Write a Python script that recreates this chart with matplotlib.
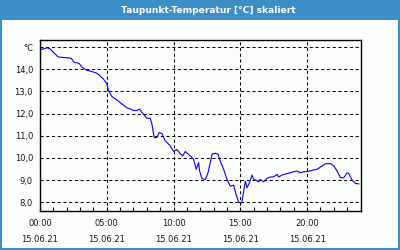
import numpy as np
import matplotlib
matplotlib.use("Agg")
import matplotlib.pyplot as plt
from matplotlib.patches import Rectangle

# data (hour of day, dew point in degC)
hours = [0.0, 0.15, 0.53, 0.75, 1.35, 1.73, 2.33, 2.55, 2.93, 3.17, 3.53, 3.77,
         4.22, 4.43, 4.75, 5.0, 5.12, 5.38, 5.75, 6.13, 6.5, 6.75, 7.0, 7.25,
         7.45, 7.63, 8.0, 8.25, 8.38, 8.55, 8.75, 8.93, 9.13, 9.38, 9.75, 10.0,
         10.25, 10.5, 10.68, 10.88, 11.25, 11.5, 11.7, 11.88, 11.95, 12.13, 12.38,
         12.58, 12.75, 12.88, 13.13, 13.33, 13.5, 13.75, 14.0, 14.25, 14.5, 14.68,
         14.88, 15.1, 15.25, 15.38, 15.5, 15.68, 15.88, 16.0, 16.18, 16.38, 16.5,
         16.75, 17.0, 17.25, 17.5, 17.75, 17.88, 18.13, 18.5, 18.75, 19.0, 19.25,
         19.5, 19.75, 20.0, 20.38, 20.75, 21.13, 21.38, 21.75, 22.0, 22.25, 22.5,
         22.75, 23.0, 23.13, 23.38, 23.63, 23.88]
temps = [14.95, 14.9, 14.97, 14.92, 14.56, 14.53, 14.5, 14.32, 14.26, 14.08, 13.95, 13.92,
         13.83, 13.74, 13.56, 13.35, 13.05, 12.77, 12.62, 12.44, 12.26, 12.21, 12.14, 12.14,
         12.2, 12.06, 11.79, 11.79, 11.53, 10.92, 10.92, 11.15, 11.1, 10.77, 10.55, 10.3,
         10.38, 10.2, 10.09, 10.29, 10.09, 9.94, 9.49, 9.79, 9.41, 9.06, 9.03,
         9.33, 9.79, 10.17, 10.21, 10.17, 9.86, 9.49, 9.03, 8.73, 8.77, 8.35,
         8.0, 7.97, 8.5, 8.95, 8.65, 8.88, 9.23, 9.03, 8.99, 8.92, 9.03,
         8.92, 9.08, 9.14, 9.15, 9.26, 9.14, 9.23, 9.29, 9.33, 9.38, 9.41,
         9.33, 9.38, 9.38, 9.44, 9.49, 9.64, 9.74, 9.74, 9.64, 9.41, 9.11,
         9.11, 9.33, 9.29, 8.99, 8.85, 8.83]

xticks = [0, 5, 10, 15, 20]
xlabels = ["00:00\n15.06.21", "05:00\n15.06.21", "10:00\n15.06.21",
           "15:00\n15.06.21", "20:00\n15.06.21"]
yticks = [8, 9, 10, 11, 12, 13, 14, 15]
ylabels = ["8,0", "9,0", "10,0", "11,0", "12,0", "13,0", "14,0", "°C"]

blue = "#3c8ec6"
txt = "#141420"

fig = plt.figure(figsize=(4, 2.5), dpi=100)
fig.patch.set_facecolor(blue)
# white panel inside the blue frame
fig.patches.append(Rectangle((2 / 400, 2 / 250), 396 / 400, 228 / 250,
                             transform=fig.transFigure, facecolor="#fcfefc",
                             edgecolor="none", zorder=-5))
fig.text(208 / 400, 1 - 10.5 / 250, "Taupunkt-Temperatur [°C] skaliert", color="white",
         fontsize=6.6, fontweight="bold", ha="center", va="center")

ax = fig.add_axes([40 / 400, (250 - 210.7) / 250, 320.5 / 400, 170.7 / 250])
ax.set_zorder(2)
ax.set_facecolor("#fcfefc")
ax.plot(hours, temps, color="#0000f0", lw=0.8)

ax.set_xlim(0, 24)
ax.set_ylim(7.62, 15.32)
ax.set_xticks(xticks)
ax.set_xticklabels(xlabels, linespacing=2.0)
ax.set_xticks(np.arange(0, 25, 1), minor=True)
ax.set_yticks(yticks)
ax.set_yticklabels(ylabels)

ax.tick_params(axis="x", which="both", direction="in", length=3, width=0.8,
               labelsize=6, labelcolor=txt, pad=6)
ax.tick_params(axis="y", length=0, labelsize=6, labelcolor=txt, pad=5)
ax.grid(True, color="black", lw=0.75, linestyle=(0, (3, 2.5)))
for s in ax.spines.values():
    s.set_linewidth(1.0)
    s.set_color("black")

fig.savefig("out.png", dpi=100, facecolor=fig.get_facecolor())
